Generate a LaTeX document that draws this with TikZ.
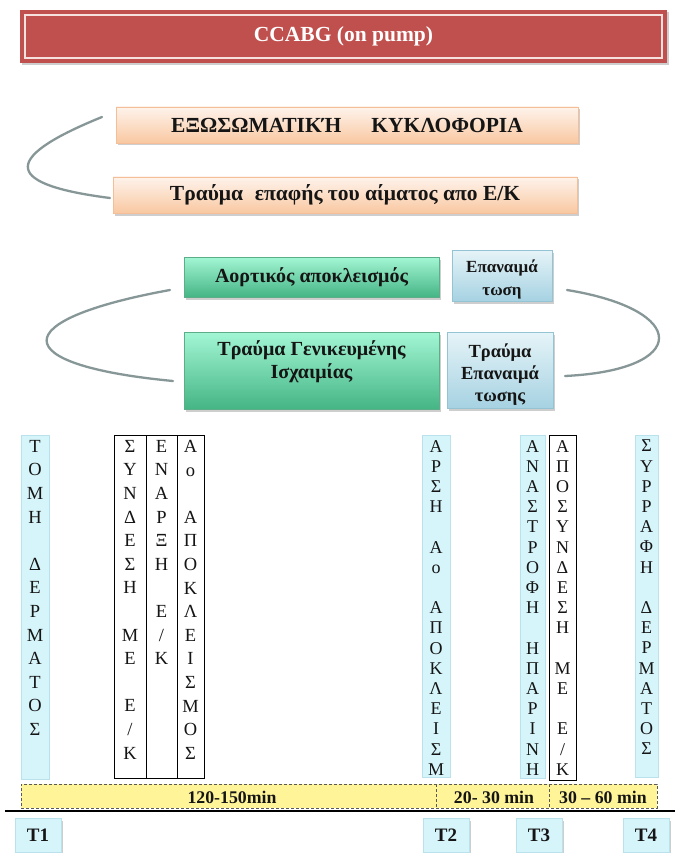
\documentclass[tikz,border=0pt]{standalone}
\usepackage{fontspec}
\setmainfont{Liberation Serif}
\usetikzlibrary{shadows}

\definecolor{titlered}{HTML}{C0504D}
\definecolor{titleline}{HTML}{F6E1DF}
\definecolor{peachtop}{HTML}{FEF3EB}
\definecolor{peachbot}{HTML}{F9C8A2}
\definecolor{peachedge}{HTML}{F3BE98}
\definecolor{greentop}{HTML}{A3F6D4}
\definecolor{greenbot}{HTML}{45B585}
\definecolor{greenedge}{HTML}{5BAE88}
\definecolor{bluetop}{HTML}{E6F4F8}
\definecolor{bluebot}{HTML}{A6D2E2}
\definecolor{blueedge}{HTML}{94C3D4}
\definecolor{colfill}{HTML}{D6F5FA}
\definecolor{coledge}{HTML}{B9E2EC}
\definecolor{barfill}{HTML}{FFF497}
\definecolor{curvegray}{HTML}{879797}
\definecolor{ink}{HTML}{151515}

\tikzset{
  softshadow/.style={drop shadow={shadow xshift=2pt, shadow yshift=-2.5pt, opacity=0.35, fill=black!55}},
  titlebox/.style={draw=none, fill=titlered, minimum width=647pt, minimum height=53pt,
    text=white, font=\fontsize{21.5}{24}\selectfont\bfseries, softshadow},
  peachbox/.style={draw=peachedge, line width=0.6pt, top color=peachtop, bottom color=peachbot,
    minimum height=36pt, text=ink, font=\fontsize{21.5}{24}\selectfont\bfseries, softshadow},
  greenbox/.style={draw=greenedge, line width=0.6pt, top color=greentop, bottom color=greenbot,
    minimum width=255pt, text=ink, align=center, font=\fontsize{20}{23}\selectfont\bfseries, softshadow},
  bluebox/.style={draw=blueedge, line width=0.6pt, top color=bluetop, bottom color=bluebot,
    text=ink, align=center, softshadow},
  boxtext/.style={inner sep=0pt, text=ink, align=center},
  linkcurve/.style={draw=curvegray, line width=2.3pt, line cap=round},
  colbox/.style={draw=coledge, line width=0.6pt, fill=colfill, minimum height=344pt},
  linebox/.style={draw=black, line width=0.8pt, fill=white, minimum height=343pt},
  colwide/.style={anchor=north, inner sep=0pt, align=center, text=ink,
    font=\fontsize{18.5}{23.6}\selectfont},
  colnarrow/.style={anchor=north, inner sep=0pt, align=center, text=ink,
    font=\fontsize{18}{20.2}\selectfont},
  timebar/.style={draw=black!65, dashed, dash pattern=on 3pt off 2pt, line width=0.7pt, fill=barfill},
  timelabel/.style={text=ink, font=\fontsize{17.8}{20}\selectfont\bfseries},
  tbox/.style={draw=coledge, line width=0.6pt, fill=colfill, minimum width=46pt, minimum height=34pt,
    text=ink, font=\fontsize{19}{21}\selectfont\bfseries, softshadow},
}

\begin{document}
\begin{tikzpicture}[x=1pt, y=-1pt]
\useasboundingbox[fill=white] (0,0) rectangle (675,853);

% heading
\node[titlebox] (title) at (343.5,36.5) {CCABG (on pump)};
\draw[titleline, line width=1.6pt]
  ([shift={(5,5)}]title.north west) rectangle ([shift={(-5,-5)}]title.south east);

% extracorporeal circulation pair
\node[peachbox, minimum width=462pt] (ecc) at (347,125) {ΕΞΩΣΩΜΑΤΙΚΉ\hspace{1.4em}ΚΥΚΛΟΦΟΡΙΑ};
\node[peachbox, minimum width=464pt] (contact) at (345,195) {Τραύμα\hspace{0.3em} επαφής του αίματος απο Ε/Κ};
\coordinate (ecc-in) at (102,117);
\coordinate (contact-in) at (110,198);
\draw[linkcurve] (ecc-in) .. controls (-4,160) and (8,185) .. (contact-in);

% clamping / ischaemia / reperfusion
\node[greenbox, minimum height=40pt] (clamp) at (311.5,277) {Αορτικός αποκλεισμός};
\node[greenbox, minimum height=77pt] (ischaemia) at (311.5,370.5) {};
\node[boxtext, font=\fontsize{20}{23}\selectfont\bfseries] (ischaemia-t) at (311.5,362)
  {Τραύμα Γενικευμένης\\Ισχαιμίας};
\node[bluebox, minimum width=100pt, minimum height=51pt] (reperf) at (502,275.5) {};
\node[boxtext, font=\fontsize{17}{22.5}\selectfont\bfseries] (reperf-t) at (502,279.5)
  {Επαναιμά\\τωση};
\node[bluebox, minimum width=106pt, minimum height=76pt] (reperfinj) at (500,370) {};
\node[boxtext, font=\fontsize{18.5}{22.2}\selectfont\bfseries] (reperfinj-t) at (500,374.5)
  {Τραύμα\\Επαναιμά\\τωσης};
\coordinate (clamp-in) at (170,290);
\coordinate (isch-in) at (173,381);
\draw[linkcurve] (clamp-in) .. controls (5,320) and (5,365) .. (isch-in);
\coordinate (reperf-out) at (567,290);
\coordinate (reperfinj-out) at (565,376);
\draw[linkcurve] (reperf-out) .. controls (690,310) and (690,370) .. (reperfinj-out);

% surgical steps, one column each
\node[colbox, minimum width=28pt] (skincut) at (35,607) {};
\node[colwide] (skincut-t) at (35,440) {Τ\\Ο\\Μ\\Η\\~\\Δ\\Ε\\Ρ\\Μ\\Α\\Τ\\Ο\\Σ};

\node[linebox, minimum width=32pt] (connect) at (130,606.5) {};
\node[colwide] (connect-t) at (130,440) {Σ\\Υ\\Ν\\Δ\\Ε\\Σ\\Η\\~\\Μ\\Ε\\~\\Ε\\/\\Κ};
\node[linebox, minimum width=31pt] (start) at (161.5,606.5) {};
\node[colwide] (start-t) at (161.5,440) {Ε\\Ν\\Α\\Ρ\\Ξ\\Η\\~\\Ε\\/\\Κ};
\node[linebox, minimum width=27pt] (xclamp) at (190.5,606.5) {};
\node[colwide] (xclamp-t) at (190.5,440) {Α\\ο\\~\\Α\\Π\\Ο\\Κ\\Λ\\Ε\\Ι\\Σ\\Μ\\Ο\\Σ};

\node[colbox, minimum width=28pt, minimum height=342pt] (unclamp) at (436,606) {};
\node[colnarrow] (unclamp-t) at (436,440) {Α\\Ρ\\Σ\\Η\\~\\Α\\ο\\~\\Α\\Π\\Ο\\Κ\\Λ\\Ε\\Ι\\Σ\\Μ};
\node[colbox, minimum width=25pt, minimum height=343pt] (heparin) at (532.5,606.5) {};
\node[colnarrow] (heparin-t) at (532.5,440) {Α\\Ν\\Α\\Σ\\Τ\\Ρ\\Ο\\Φ\\Η\\~\\Η\\Π\\Α\\Ρ\\Ι\\Ν\\Η};
\node[linebox, minimum width=27pt, minimum height=345pt] (disconnect) at (562.5,607.5) {};
\node[colnarrow] (disconnect-t) at (562.5,440) {Α\\Π\\Ο\\Σ\\Υ\\Ν\\Δ\\Ε\\Σ\\Η\\~\\Μ\\Ε\\~\\Ε\\/\\Κ};
\node[colbox, minimum width=23pt, minimum height=342pt] (suture) at (646.5,606) {};
\node[colnarrow] (suture-t) at (646.5,440) {Σ\\Υ\\Ρ\\Ρ\\Α\\Φ\\Η\\~\\Δ\\Ε\\Ρ\\Μ\\Α\\Τ\\Ο\\Σ};

% durations
\node[timebar, minimum width=636pt, minimum height=24pt] (bar) at (339,796) {};
\coordinate (div1-top) at (436,784);
\coordinate (div1-bot) at (436,808);
\coordinate (div2-top) at (549,784);
\coordinate (div2-bot) at (549,808);
\draw[draw=black!65, dash pattern=on 3pt off 2pt, line width=0.7pt] (div1-top) -- (div1-bot);
\draw[draw=black!65, dash pattern=on 3pt off 2pt, line width=0.7pt] (div2-top) -- (div2-bot);
\node[timelabel] (d1) at (232,797) {120-150min};
\node[timelabel] (d2) at (494,797) {20- 30 min};
\node[timelabel] (d3) at (603,797) {30 – 60 min};

% time axis
\coordinate (axis-l) at (5,811);
\coordinate (axis-r) at (675,811);
\draw[line width=1.2pt] (axis-l) -- (axis-r);
\node[tbox] (t1) at (38,835) {T1};
\node[tbox] (t2) at (446,835) {T2};
\node[tbox] (t3) at (539,835) {T3};
\node[tbox] (t4) at (646,835) {T4};
\end{tikzpicture}
\end{document}
